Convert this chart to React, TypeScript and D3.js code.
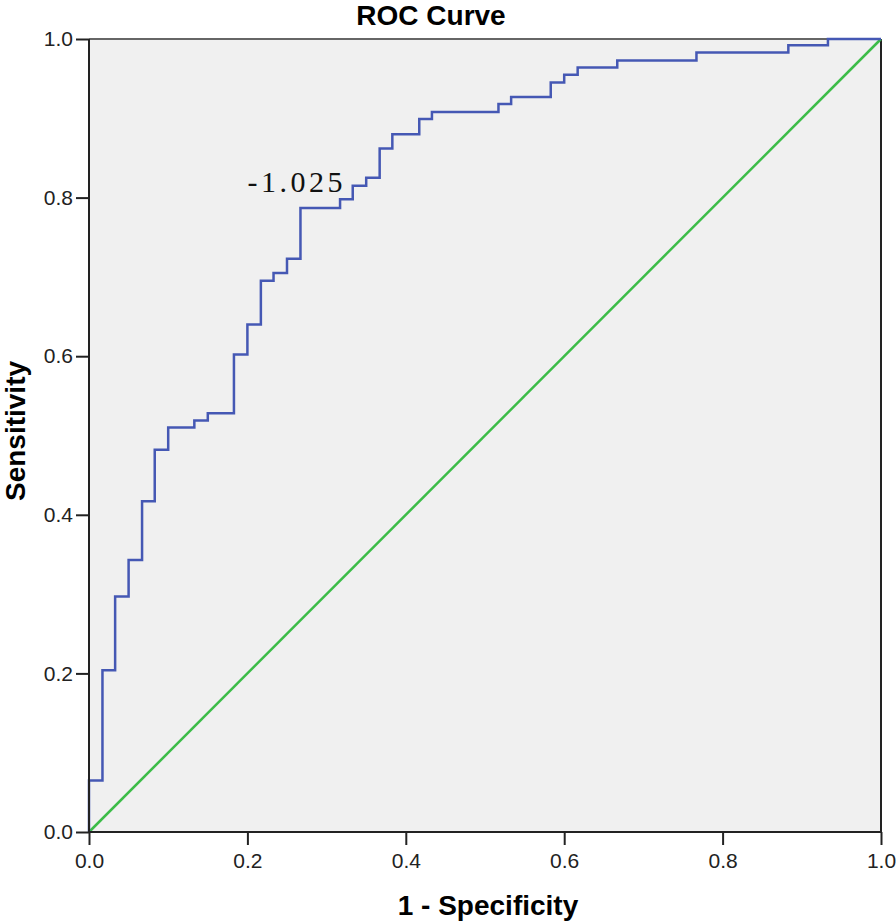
import { useEffect, useRef } from 'react'
import * as d3 from 'd3'

// ROC curve corners: false positive rate where each vertical jump happens, and sensitivity after it
const fpr = [0, 0, 0.017, 0.033, 0.05, 0.067, 0.083, 0.1, 0.133, 0.15, 0.183, 0.2, 0.217, 0.233, 0.25, 0.267, 0.317, 0.333, 0.35, 0.367, 0.383, 0.417, 0.433, 0.517, 0.533, 0.583, 0.6, 0.617, 0.667, 0.767, 0.883, 0.933, 1.0]
const tpr = [0, 0.065, 0.204, 0.297, 0.343, 0.417, 0.482, 0.51, 0.519, 0.528, 0.602, 0.64, 0.695, 0.705, 0.723, 0.787, 0.798, 0.815, 0.825, 0.862, 0.88, 0.899, 0.908, 0.918, 0.927, 0.945, 0.955, 0.964, 0.973, 0.983, 0.992, 1.0, 1.0]

const refLine = [0, 1]
const ticks = [0, 0.2, 0.4, 0.6, 0.8, 1.0]
const cutoff = { fpr: 0.267, tpr: 0.787, label: '-1.025' }

const width = 896
const height = 922

export default function App() {
  const svgRef = useRef<SVGSVGElement>(null)

  useEffect(() => {
    if (!svgRef.current) return
    const svg = d3.select(svgRef.current)
    svg.selectAll('*').remove()

    const margin = { top: 39, right: 15, bottom: 90, left: 89 }
    const x = d3.scaleLinear().domain([0, 1]).range([margin.left, width - margin.right])
    const y = d3.scaleLinear().domain([0, 1]).range([height - margin.bottom, margin.top])
    const font = 'Arial, "Liberation Sans", sans-serif'

    // plot background
    svg.append('rect')
      .attr('x', x(0))
      .attr('y', y(1))
      .attr('width', x(1) - x(0))
      .attr('height', y(0) - y(1))
      .attr('fill', '#f0f0f0')

    // top and right frame
    svg.append('line')
      .attr('x1', x(0)).attr('x2', x(1))
      .attr('y1', y(1)).attr('y2', y(1))
      .attr('stroke', '#666').attr('stroke-width', 2)
    svg.append('line')
      .attr('x1', x(1)).attr('x2', x(1))
      .attr('y1', y(1)).attr('y2', y(0))
      .attr('stroke', '#222').attr('stroke-width', 2)

    // diagonal reference
    svg.append('line')
      .attr('x1', x(refLine[0])).attr('y1', y(refLine[0]))
      .attr('x2', x(refLine[1])).attr('y2', y(refLine[1]))
      .attr('stroke', '#3cbc48')
      .attr('stroke-width', 2.5)

    // ROC step line
    const line = d3.line<number>()
      .x((_, i) => x(fpr[i]))
      .y((_, i) => y(tpr[i]))
      .curve(d3.curveStepAfter)
    svg.append('path')
      .datum(tpr)
      .attr('d', line)
      .attr('fill', 'none')
      .attr('stroke', '#4558b4')
      .attr('stroke-width', 2.5)

    // axes
    const xAxis = svg.append('g')
      .attr('transform', `translate(0,${y(0)})`)
      .call(d3.axisBottom(x).tickValues(ticks).tickFormat(d3.format('.1f')).tickSize(13).tickPadding(8))
    const yAxis = svg.append('g')
      .attr('transform', `translate(${x(0)},0)`)
      .call(d3.axisLeft(y).tickValues(ticks).tickFormat(d3.format('.1f')).tickSize(13).tickPadding(3))
    for (const ax of [xAxis, yAxis]) {
      ax.select('.domain').attr('stroke', '#222').attr('stroke-width', 2)
      ax.selectAll('.tick line').attr('stroke', '#222').attr('stroke-width', 2)
      ax.selectAll('.tick text')
        .attr('fill', '#222')
        .style('font-family', font)
        .style('font-size', '21px')
    }
    xAxis.select('.domain').attr('d', `M${x(0)},0H${x(1)}`)
    yAxis.select('.domain').attr('d', `M0,${y(0)}V${y(1)}`)

    // cutoff label
    svg.append('text')
      .attr('x', x(cutoff.fpr) + 42)
      .attr('y', y(cutoff.tpr) - 16)
      .attr('text-anchor', 'end')
      .attr('textLength', 95)
      .attr('lengthAdjust', 'spacing')
      .style('font-family', '"Liberation Serif", "DejaVu Serif", serif')
      .style('font-size', '30px')
      .attr('fill', '#111')
      .text(cutoff.label)

    // title
    svg.append('text')
      .attr('x', 431)
      .attr('y', 25)
      .attr('text-anchor', 'middle')
      .style('font-family', font)
      .style('font-size', '28px')
      .style('font-weight', 'bold')
      .text('ROC Curve')

    // axis titles
    svg.append('text')
      .attr('x', 488)
      .attr('y', 915)
      .attr('text-anchor', 'middle')
      .style('font-family', font)
      .style('font-size', '28px')
      .style('font-weight', 'bold')
      .text('1 - Specificity')

    svg.append('text')
      .attr('transform', 'translate(25,431) rotate(-90)')
      .attr('text-anchor', 'middle')
      .style('font-family', font)
      .style('font-size', '28px')
      .style('font-weight', 'bold')
      .text('Sensitivity')
  }, [])

  return (
    <svg
      ref={svgRef}
      width={width}
      height={height}
      style={{ position: 'absolute', left: 0, top: 0, background: '#fff' }}
    />
  )
}
